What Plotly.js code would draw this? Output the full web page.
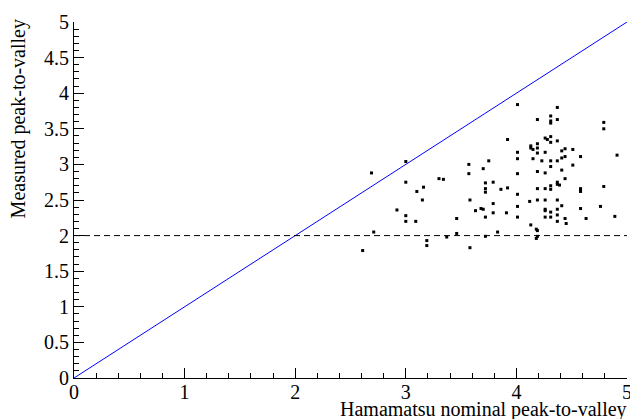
<!DOCTYPE html>
<html>
<head>
<meta charset="utf-8">
<script src="https://cdn.plot.ly/plotly-3.0.1.min.js"></script>
<style>html,body{margin:0;padding:0;background:#fff;}</style>
</head>
<body>
<div id="chart" style="width:630px;height:419px;"></div>
<script>
const nominal = [
2.69,3.00,3.00,3.10,3.16,3.15,2.92,3.00,3.00,3.09,2.71,2.61,3.19,3.19,3.30,3.34,3.37,3.46,3.46,3.57,
3.57,3.58,3.58,3.63,3.68,3.70,3.70,3.72,3.72,3.72,3.72,3.72,3.75,4.01,3.92,3.79,3.86,3.92,3.79,3.79,
3.91,3.83,4.01,4.01,4.01,4.01,4.01,4.01,4.12,4.13,4.18,4.19,4.19,4.18,4.19,4.31,4.31,4.31,4.37,4.37,
4.26,4.28,4.31,4.31,4.37,4.13,4.13,4.15,4.19,4.19,4.19,4.26,4.15,4.23,4.31,4.31,4.37,4.41,4.41,4.44,
4.44,4.51,4.58,4.51,4.41,4.19,4.26,4.44,4.37,4.37,4.39,4.31,4.31,4.19,4.26,4.58,4.58,4.58,4.79,4.79,
4.79,4.91,4.19,4.26,4.37,4.41,4.26,4.26,4.37,4.31,4.31,4.26,4.37,4.37,4.44,4.45,4.58,4.63,4.76,4.89
];
const measured = [
2.88,3.04,2.75,2.62,2.68,2.50,2.36,2.28,2.20,2.20,2.05,1.79,1.93,1.86,2.80,2.79,1.98,2.24,2.03,3.00,
2.87,2.50,1.83,2.35,2.38,2.37,2.94,2.74,2.66,2.61,2.26,1.99,3.05,3.84,3.35,2.75,2.65,2.67,2.45,2.32,
2.32,2.05,3.17,3.08,2.87,2.58,2.41,2.26,2.48,2.15,2.09,2.07,1.99,1.96,3.63,3.68,3.61,3.58,3.80,3.63,
3.37,3.35,3.39,3.31,3.33,3.26,3.23,3.21,3.29,3.23,3.16,3.17,3.08,3.05,3.05,2.97,3.05,3.19,3.09,3.22,
3.11,3.21,3.11,2.99,2.92,2.90,2.88,2.80,2.75,2.72,2.71,2.70,2.65,2.66,2.66,2.66,2.64,2.62,2.69,3.59,
3.50,3.13,2.50,2.50,2.50,2.42,2.37,2.35,2.37,2.33,2.26,2.26,2.29,2.20,2.24,2.17,2.38,2.24,2.41,2.27
];
const diagX = [0, 5];
const diagY = [0, 5];
const thresholdX = [0, 5];
const thresholdY = [2, 2];
const xTicks = [0, 1, 2, 3, 4, 5];
const xTickText = ['0', '1', '2', '3', '4', '5'];
const yTicks = [0, 0.5, 1, 1.5, 2, 2.5, 3, 3.5, 4, 4.5, 5];
const yTickText = ['0', '0.5', '1', '1.5', '2', '2.5', '3', '3.5', '4', '4.5', '5'];
const xTitle = 'Hamamatsu nominal peak-to-valley';
const yTitle = 'Measured peak-to-valley';

const font = '"Liberation Serif", "Times New Roman", Times, serif';

const traces = [
  {x: diagX, y: diagY, mode: 'lines', line: {color: '#0000ff', width: 1}, hoverinfo: 'skip'},
  {x: thresholdX, y: thresholdY, mode: 'lines', line: {color: '#000', width: 1, dash: '6px,4px'}, hoverinfo: 'skip'},
  {x: nominal, y: measured, mode: 'markers', marker: {symbol: 'square', size: 3, color: '#000'}}
];

const axisCommon = {
  showgrid: false, zeroline: false, showline: true, linecolor: '#000', linewidth: 1,
  ticks: 'inside', ticklen: 10, tickcolor: '#000', tickwidth: 1,
  tickfont: {family: font, size: 20, color: '#000'},
  tickmode: 'array', ticklabeloverflow: 'allow', range: [0, 5], fixedrange: true
};

const xMinor = {dtick: 0.2, ticks: 'inside', ticklen: 5, tickcolor: '#000', tickwidth: 1, showgrid: false};
const yMinor = {dtick: 0.1, ticks: 'inside', ticklen: 5, tickcolor: '#000', tickwidth: 1, showgrid: false};

const layout = {
  width: 630, height: 419,
  margin: {l: 74, r: 3, t: 22, b: 41},
  paper_bgcolor: '#fff', plot_bgcolor: '#fff',
  showlegend: false,
  font: {family: font, color: '#000'},
  xaxis: Object.assign({}, axisCommon, {tickvals: xTicks, ticktext: xTickText, minor: xMinor, ticklabelstandoff: -4}),
  yaxis: Object.assign({}, axisCommon, {tickvals: yTicks, ticktext: yTickText, minor: yMinor}),
  xaxis2: Object.assign({}, axisCommon, {tickvals: xTicks, ticktext: xTickText, minor: xMinor,
    overlaying: 'x', side: 'top', anchor: 'y', showticklabels: false}),
  yaxis2: Object.assign({}, axisCommon, {tickvals: yTicks, ticktext: yTickText, minor: yMinor,
    overlaying: 'y', side: 'right', anchor: 'x', showticklabels: false}),
  annotations: [
    {text: xTitle, xref: 'paper', yref: 'paper', x: 1.003, y: -0.05, xanchor: 'right', yanchor: 'top',
     showarrow: false, font: {family: font, size: 20, color: '#000'}},
    {text: yTitle, xref: 'paper', yref: 'paper', x: -0.101, y: 1.012, xanchor: 'center', yanchor: 'top',
     textangle: -90, showarrow: false, font: {family: font, size: 20, color: '#000'}}
  ]
};

Plotly.newPlot('chart', traces, layout, {displayModeBar: false, staticPlot: true});
</script>
</body>
</html>
